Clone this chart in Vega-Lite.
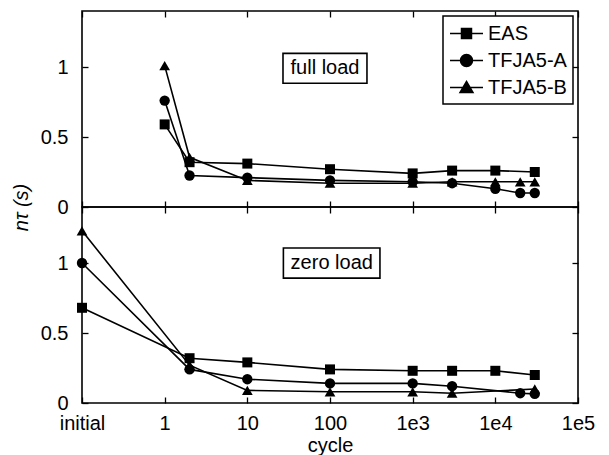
{
  "$schema": "https://vega.github.io/schema/vega-lite/v6.json",
  "padding": {"left": 10, "top": 9, "right": 14, "bottom": 2},
  "background": "white",
  "spacing": 0,
  "bounds": "flush",
  "config": {
    "font": "Liberation Sans",
    "view": {"stroke": "black", "strokeWidth": 1.6},
    "axis": {
      "domain": false, "grid": false, "tickColor": "black", "tickSize": -6, "tickWidth": 1.3,
      "labelFontSize": 20, "labelColor": "black", "labelFont": "Liberation Sans",
      "titleFontSize": 20, "titleColor": "black", "titleFontWeight": "normal", "titleFont": "Liberation Sans",
      "labelFlush": false, "labelOverlap": false
    },
    "legend": {
      "orient": "top-right", "offset": 5, "padding": 6, "strokeColor": "black", "strokeWidth": 1.5,
      "fillColor": "white", "labelFontSize": 20, "labelColor": "black", "labelFont": "Liberation Sans",
      "symbolSize": 441, "rowPadding": 5, "labelOffset": 16, "symbolStrokeWidth": 1.5
    }
  },
  "datasets": {
    "main": [
      {"load": "full", "series": "EAS", "cycle": 1, "ntau": 0.59},
      {"load": "full", "series": "EAS", "cycle": 2, "ntau": 0.32},
      {"load": "full", "series": "EAS", "cycle": 10, "ntau": 0.31},
      {"load": "full", "series": "EAS", "cycle": 100, "ntau": 0.27},
      {"load": "full", "series": "EAS", "cycle": 1000, "ntau": 0.24},
      {"load": "full", "series": "EAS", "cycle": 3000, "ntau": 0.26},
      {"load": "full", "series": "EAS", "cycle": 10000, "ntau": 0.26},
      {"load": "full", "series": "EAS", "cycle": 30000, "ntau": 0.25},
      {"load": "full", "series": "TFJA5-A", "cycle": 1, "ntau": 0.76},
      {"load": "full", "series": "TFJA5-A", "cycle": 2, "ntau": 0.225},
      {"load": "full", "series": "TFJA5-A", "cycle": 10, "ntau": 0.21},
      {"load": "full", "series": "TFJA5-A", "cycle": 100, "ntau": 0.19},
      {"load": "full", "series": "TFJA5-A", "cycle": 1000, "ntau": 0.18},
      {"load": "full", "series": "TFJA5-A", "cycle": 3000, "ntau": 0.17},
      {"load": "full", "series": "TFJA5-A", "cycle": 10000, "ntau": 0.13},
      {"load": "full", "series": "TFJA5-A", "cycle": 20000, "ntau": 0.1},
      {"load": "full", "series": "TFJA5-A", "cycle": 30000, "ntau": 0.1},
      {"load": "full", "series": "TFJA5-B", "cycle": 1, "ntau": 1.01},
      {"load": "full", "series": "TFJA5-B", "cycle": 2, "ntau": 0.355},
      {"load": "full", "series": "TFJA5-B", "cycle": 10, "ntau": 0.19},
      {"load": "full", "series": "TFJA5-B", "cycle": 100, "ntau": 0.17},
      {"load": "full", "series": "TFJA5-B", "cycle": 1000, "ntau": 0.17},
      {"load": "full", "series": "TFJA5-B", "cycle": 3000, "ntau": 0.18},
      {"load": "full", "series": "TFJA5-B", "cycle": 10000, "ntau": 0.18},
      {"load": "full", "series": "TFJA5-B", "cycle": 20000, "ntau": 0.18},
      {"load": "full", "series": "TFJA5-B", "cycle": 30000, "ntau": 0.18},
      {"load": "zero", "series": "EAS", "cycle": 0.1, "ntau": 0.68},
      {"load": "zero", "series": "EAS", "cycle": 2, "ntau": 0.32},
      {"load": "zero", "series": "EAS", "cycle": 10, "ntau": 0.29},
      {"load": "zero", "series": "EAS", "cycle": 100, "ntau": 0.24},
      {"load": "zero", "series": "EAS", "cycle": 1000, "ntau": 0.23},
      {"load": "zero", "series": "EAS", "cycle": 3000, "ntau": 0.23},
      {"load": "zero", "series": "EAS", "cycle": 10000, "ntau": 0.23},
      {"load": "zero", "series": "EAS", "cycle": 30000, "ntau": 0.2},
      {"load": "zero", "series": "TFJA5-A", "cycle": 0.1, "ntau": 1.0},
      {"load": "zero", "series": "TFJA5-A", "cycle": 2, "ntau": 0.24},
      {"load": "zero", "series": "TFJA5-A", "cycle": 10, "ntau": 0.17},
      {"load": "zero", "series": "TFJA5-A", "cycle": 100, "ntau": 0.14},
      {"load": "zero", "series": "TFJA5-A", "cycle": 1000, "ntau": 0.14},
      {"load": "zero", "series": "TFJA5-A", "cycle": 3000, "ntau": 0.12},
      {"load": "zero", "series": "TFJA5-A", "cycle": 20000, "ntau": 0.07},
      {"load": "zero", "series": "TFJA5-A", "cycle": 30000, "ntau": 0.065},
      {"load": "zero", "series": "TFJA5-B", "cycle": 0.1, "ntau": 1.23},
      {"load": "zero", "series": "TFJA5-B", "cycle": 2, "ntau": 0.27},
      {"load": "zero", "series": "TFJA5-B", "cycle": 10, "ntau": 0.09},
      {"load": "zero", "series": "TFJA5-B", "cycle": 100, "ntau": 0.08},
      {"load": "zero", "series": "TFJA5-B", "cycle": 1000, "ntau": 0.08},
      {"load": "zero", "series": "TFJA5-B", "cycle": 3000, "ntau": 0.07},
      {"load": "zero", "series": "TFJA5-B", "cycle": 30000, "ntau": 0.1}
    ],
    "notes": [
      {"load": "full", "label": "full load", "xc": 87, "yc": 0.99, "x1": 27, "x2": 280, "y1": 0.884, "y2": 1.097},
      {"load": "zero", "label": "zero load", "xc": 105, "yc": 1.0, "x1": 27.3, "x2": 402, "y1": 0.892, "y2": 1.107}
    ]
  },
  "resolve": {"scale": {"shape": "independent", "size": "independent"}, "legend": {"shape": "independent", "size": "independent"}},
  "vconcat": [
    {
      "width": 496, "height": 196,
      "layer": [
        {
          "data": {"name": "main"},
          "transform": [{"filter": "datum.load == 'full'"}],
          "mark": {"type": "line", "color": "black", "strokeWidth": 1.6},
          "encoding": {
            "x": {"field": "cycle", "type": "quantitative", "scale": {"type": "log", "domain": [0.1, 100000]},
                  "axis": {"orient": "bottom", "values": [0.1, 1, 10, 100, 1000, 10000, 100000], "labels": false, "title": null}},
            "y": {"field": "ntau", "type": "quantitative", "scale": {"domain": [0, 1.4]},
                  "axis": {"orient": "left", "values": [0, 0.5, 1], "labelExpr": "'' + datum.value", "labelPadding": 20,
                           "title": "nτ (s)", "titleFontStyle": "italic", "titleY": 196, "titlePadding": 9}},
            "detail": {"field": "series", "type": "nominal"}
          }
        },
        {
          "data": {"name": "main"},
          "transform": [{"filter": "datum.load == 'full'"}],
          "mark": {"type": "point", "filled": true, "color": "black", "opacity": 1},
          "encoding": {
            "x": {"field": "cycle", "type": "quantitative",
                  "axis": {"orient": "top", "values": [0.1, 1, 10, 100, 1000, 10000, 100000], "labels": false, "title": null}},
            "y": {"field": "ntau", "type": "quantitative",
                  "axis": {"orient": "right", "values": [0, 0.5, 1], "labels": false, "title": null}},
            "shape": {"field": "series", "type": "nominal",
                      "scale": {"domain": ["EAS", "TFJA5-A", "TFJA5-B"], "range": ["square", "circle", "triangle-up"]},
                      "legend": null},
            "size": {"field": "series", "type": "nominal",
                     "scale": {"domain": ["EAS", "TFJA5-A", "TFJA5-B"], "range": [100, 115, 165]},
                     "legend": null}
          }
        },
        {
          "data": {"name": "main"},
          "transform": [{"filter": "datum.ntau < 0"}],
          "mark": {"type": "point", "filled": true, "color": "black", "stroke": "black", "strokeWidth": 1.5, "opacity": 1},
          "encoding": {
            "x": {"field": "cycle", "type": "quantitative", "axis": null},
            "y": {"field": "ntau", "type": "quantitative", "axis": null},
            "shape": {"field": "series", "type": "nominal",
                      "scale": {"domain": ["EAS", "TFJA5-A", "TFJA5-B"],
                                "range": ["M-1,0H2.143M0.095,-0.476H1.047V0.476H0.095Z",
                                          "M-1,0H2.143M1.143,0A0.571,0.571,0,1,1,0,0A0.571,0.571,0,1,1,1.143,0Z",
                                          "M-1,0H2.143M0.571,-0.571L1.19,0.476H-0.048Z"]},
                      "legend": {"title": null}}
          }
        },
        {
          "data": {"name": "notes"},
          "transform": [{"filter": "datum.load == 'full'"}],
          "mark": {"type": "rect", "fill": "white", "stroke": "black", "strokeWidth": 1.6},
          "encoding": {
            "x": {"field": "x1", "type": "quantitative", "axis": null},
            "x2": {"field": "x2"},
            "y": {"field": "y1", "type": "quantitative", "axis": null},
            "y2": {"field": "y2"}
          }
        },
        {
          "data": {"name": "notes"},
          "transform": [{"filter": "datum.load == 'full'"}],
          "mark": {"type": "text", "fontSize": 20, "color": "black", "align": "center", "baseline": "middle"},
          "encoding": {
            "x": {"field": "xc", "type": "quantitative", "axis": null},
            "y": {"field": "yc", "type": "quantitative", "axis": null},
            "text": {"field": "label"}
          }
        }
      ],
      "resolve": {"axis": {"x": "independent", "y": "independent"}, "scale": {"shape": "independent"}, "legend": {"shape": "independent"}}
    },
    {
      "width": 496, "height": 196,
      "layer": [
        {
          "data": {"name": "main"},
          "transform": [{"filter": "datum.load == 'zero'"}],
          "mark": {"type": "line", "color": "black", "strokeWidth": 1.6},
          "encoding": {
            "x": {"field": "cycle", "type": "quantitative", "scale": {"type": "log", "domain": [0.1, 100000]},
                  "axis": {"orient": "bottom", "values": [0.1, 1, 10, 100, 1000, 10000, 100000], "labelPadding": 16,
                           "labelExpr": "datum.value < 0.5 ? 'initial' : datum.value < 500 ? '' + round(datum.value) : '1e' + round(log(datum.value) / LN10)",
                           "title": "cycle", "titlePadding": 2}},
            "y": {"field": "ntau", "type": "quantitative", "scale": {"domain": [0, 1.4]},
                  "axis": {"orient": "left", "values": [0, 0.5, 1], "labelExpr": "'' + datum.value", "labelPadding": 20, "title": null}},
            "detail": {"field": "series", "type": "nominal"}
          }
        },
        {
          "data": {"name": "main"},
          "transform": [{"filter": "datum.load == 'zero'"}],
          "mark": {"type": "point", "filled": true, "color": "black", "opacity": 1},
          "encoding": {
            "x": {"field": "cycle", "type": "quantitative",
                  "axis": {"orient": "top", "values": [0.1, 1, 10, 100, 1000, 10000, 100000], "labels": false, "title": null}},
            "y": {"field": "ntau", "type": "quantitative",
                  "axis": {"orient": "right", "values": [0, 0.5, 1], "labels": false, "title": null}},
            "shape": {"field": "series", "type": "nominal",
                      "scale": {"domain": ["EAS", "TFJA5-A", "TFJA5-B"], "range": ["square", "circle", "triangle-up"]},
                      "legend": null},
            "size": {"field": "series", "type": "nominal",
                     "scale": {"domain": ["EAS", "TFJA5-A", "TFJA5-B"], "range": [100, 115, 165]},
                     "legend": null}
          }
        },
        {
          "data": {"name": "notes"},
          "transform": [{"filter": "datum.load == 'zero'"}],
          "mark": {"type": "rect", "fill": "white", "stroke": "black", "strokeWidth": 1.6},
          "encoding": {
            "x": {"field": "x1", "type": "quantitative", "axis": null},
            "x2": {"field": "x2"},
            "y": {"field": "y1", "type": "quantitative", "axis": null},
            "y2": {"field": "y2"}
          }
        },
        {
          "data": {"name": "notes"},
          "transform": [{"filter": "datum.load == 'zero'"}],
          "mark": {"type": "text", "fontSize": 20, "color": "black", "align": "center", "baseline": "middle"},
          "encoding": {
            "x": {"field": "xc", "type": "quantitative", "axis": null},
            "y": {"field": "yc", "type": "quantitative", "axis": null},
            "text": {"field": "label"}
          }
        }
      ],
      "resolve": {"axis": {"x": "independent", "y": "independent"}}
    }
  ]
}
